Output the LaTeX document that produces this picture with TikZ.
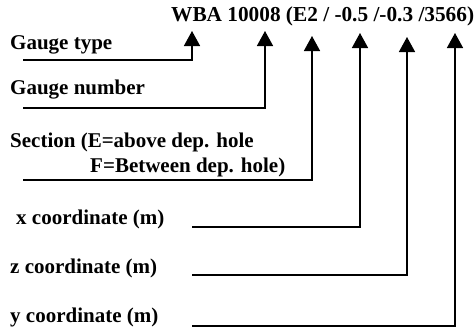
\documentclass[tikz,border=0pt]{standalone}
\usepackage{fontspec}
\setmainfont{Liberation Serif}
\usetikzlibrary{arrows.meta}
\tikzset{
  lbl/.style={anchor=base west, inner sep=0pt, font=\fontsize{21}{24}\selectfont\bfseries},
  lead/.style={line width=1.6pt, -{Triangle[width=16pt,length=15pt]}},
}

\begin{document}
\begin{tikzpicture}[x=1pt, y=-1pt]
  \useasboundingbox (0,0) rectangle (475,333);

  % Gauge name
  \node[lbl, font=\fontsize{21.3}{24}\selectfont\bfseries] (name) at (171,21) {WBA 10008 (E2 / -0.5 /-0.3 /3566)};

  % Labels
  \node[lbl] (type) at (10,49) {Gauge type};
  \node[lbl] (number) at (10,94) {Gauge number};
  \node[lbl] (sec) at (10,147) {Section (E=above dep. hole};
  \node[lbl] (secb) at (90,172) {F=Between dep. hole)};
  \node[lbl] (xco) at (16,224) {x coordinate (m)};
  \node[lbl] (zco) at (10,273) {z coordinate (m)};
  \node[lbl] (yco) at (10,322) {y coordinate (m)};

  % Arrow tips and line starts
  \foreach \n/\x/\y in {1/192/31, 2/265/31, 3/312/36, 4/360/33, 5/407/37, 6/455/33}
    \coordinate (t\n) at (\x,\y);
  \foreach \n/\x/\y in {1/23/60, 2/23/108, 3/23/180, 4/192/227, 5/192/275, 6/192/326}
    \coordinate (s\n) at (\x,\y);

  % Leader lines
  \foreach \n in {1,...,6}
    \draw[lead] (s\n) -| (t\n);
\end{tikzpicture}
\end{document}
